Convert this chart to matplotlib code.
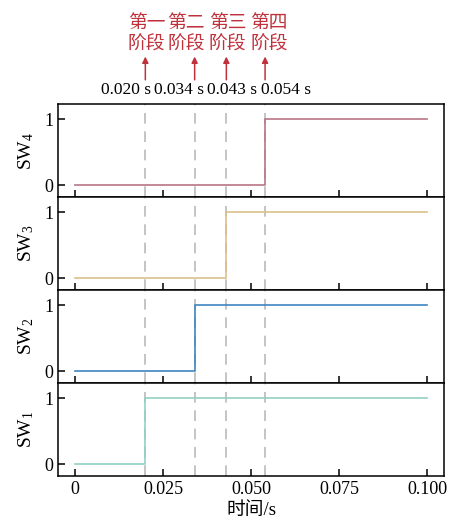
import matplotlib
matplotlib.use("Agg")
import matplotlib.pyplot as plt

plt.rcParams['font.family'] = ['Liberation Serif', 'Noto Sans CJK SC']
plt.rcParams['mathtext.fontset'] = 'custom'
plt.rcParams['mathtext.rm'] = 'Liberation Serif'
plt.rcParams['mathtext.it'] = 'Liberation Serif'
plt.rcParams['font.size'] = 12

# switch-on times of each stage (s)
stage_times = [0.020, 0.034, 0.043, 0.054]
stage_names = ["第一\n阶段", "第二\n阶段", "第三\n阶段", "第四\n阶段"]
time_labels = ["0.020 s", "0.034 s", "0.043 s", "0.054 s"]

# switch signals, top panel first
signal_names = ["SW$_4$", "SW$_3$", "SW$_2$", "SW$_1$"]
signal_on = [0.054, 0.043, 0.034, 0.020]
signal_colors = ["#b77584", "#dcc08a", "#3d85c0", "#92d0c3"]
t_end = 0.100

x_ticks = [0, 0.025, 0.050, 0.075, 0.100]
x_ticklabels = ["0", "0.025", "0.050", "0.075", "0.100"]

# label offsets (points) so that the texts don't overlap
label_dx = [-14, -11, 4, 15]
name_dx = [1, -6, 1, 3]

fig = plt.figure(figsize=(4.5, 5.22), dpi=100)
axes = []
top, h = 1 - 104 / 522, 93 / 522
for i in range(4):
    ax = fig.add_axes([58 / 450, top - (i + 1) * h, 386 / 450, h])
    axes.append(ax)

for i, ax in enumerate(axes):
    t_on = signal_on[i]
    for t in stage_times:
        ax.axvline(t, color="#b4b4b4", lw=1.1, ls=(0, (7, 5)), zorder=1)
    ax.plot([0, t_on, t_end], [0, 1, 1], drawstyle="steps-post",
            color=signal_colors[i], lw=1.2, zorder=2)
    ax.set_xlim(-0.0048, 0.1048)
    ax.set_ylim(-0.18, 1.23)
    ax.set_yticks([0, 1])
    ax.set_yticklabels(["0", "1"], fontsize=13)
    ax.set_xticks(x_ticks)
    ax.tick_params(direction="in", length=5, width=1.1, top=False, right=False)
    if i < 3:
        ax.set_xticklabels([])
    else:
        ax.set_xticklabels(x_ticklabels, fontsize=13)
        ax.set_xlabel("时间/s", fontsize=13.5, labelpad=3)
    ax.set_ylabel(signal_names[i], fontsize=14, labelpad=6)
    for s in ax.spines.values():
        s.set_linewidth(1.1)

fig.align_ylabels(axes)

# stage annotations above the top panel
ax = axes[0]
tr = ax.get_xaxis_transform()
red = "#c0313c"
for t, name, lab, dl, dn in zip(stage_times, stage_names, time_labels, label_dx, name_dx):
    ax.annotate(lab, xy=(t, 1.15), xycoords=tr, xytext=(dl, 0),
                textcoords="offset points", ha="center", va="center",
                fontsize=12.5, annotation_clip=False)
    ax.annotate("", xy=(t, 1.51), xycoords=tr, xytext=(t, 1.26),
                textcoords=tr, annotation_clip=False,
                arrowprops=dict(arrowstyle="-|>", color=red, lw=1.1,
                                mutation_scale=9, shrinkA=0, shrinkB=0))
    ax.annotate(name, xy=(t, 1.76), xycoords=tr, xytext=(dn, 0),
                textcoords="offset points", ha="center", va="center",
                fontsize=13.5, color=red, linespacing=1.1,
                family=["Noto Sans CJK SC"], annotation_clip=False)

fig.savefig("out.png", dpi=100)
